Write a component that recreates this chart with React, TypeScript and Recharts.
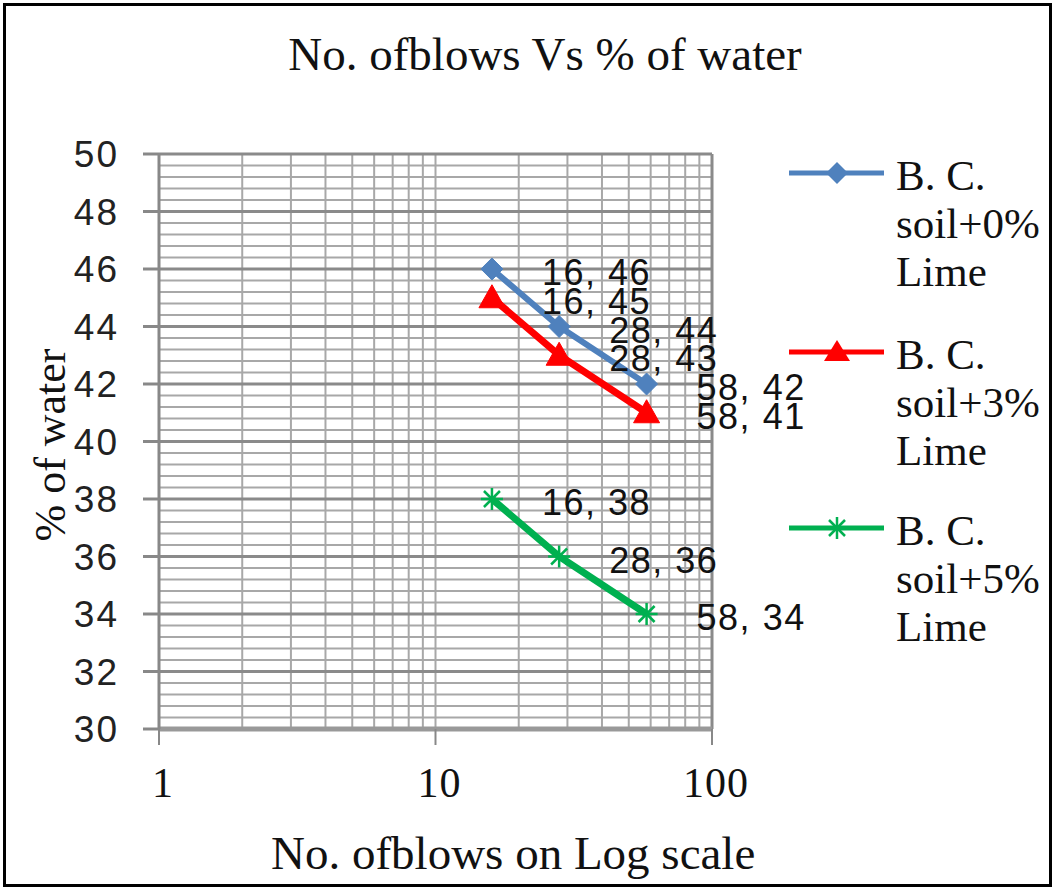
import React from "react";
import { LineChart, Line, XAxis, YAxis, CartesianGrid, LabelList } from "recharts";

const blows = [16, 28, 58];
const lime0 = [46, 44, 42];
const lime3 = [45, 43, 41];
const lime5 = [38, 36, 34];
const seriesNames = ["B. C. soil+0% Lime", "B. C. soil+3% Lime", "B. C. soil+5% Lime"];
const yTicks = [30, 32, 34, 36, 38, 40, 42, 44, 46, 48, 50];
const xTicks = [1, 10, 100];
const xMinor = [2, 3, 4, 5, 6, 7, 8, 9, 10, 20, 30, 40, 50, 60, 70, 80, 90];

const yMinor: number[] = [];
for (let i = 0; i <= 50; i++) {
  const v = Math.round((30 + i * 0.4) * 10) / 10;
  if (v % 2 !== 0) yMinor.push(v);
}

const mk = (ys: number[]) => blows.map((x, i) => ({ x, y: ys[i], label: `${x}, ${ys[i]}` }));
const d0 = mk(lime0);
const d3 = mk(lime3);
const d5 = mk(lime5);

const BLUE = "#4F81BD";
const RED = "#FF0000";
const GREEN = "#00B050";
const sans = "Liberation Sans, Arial, sans-serif";
const serif = "Liberation Serif, Times New Roman, serif";

const Diamond = (p: any) => {
  const { cx, cy } = p;
  if (cx == null || cy == null) return null;
  const r = 11;
  return <polygon key={`d${p.index}`} points={`${cx},${cy - r} ${cx + r},${cy} ${cx},${cy + r} ${cx - r},${cy}`} fill={BLUE} stroke={BLUE} />;
};
const Tri = (p: any) => {
  const { cx, cy } = p;
  if (cx == null || cy == null) return null;
  return <polygon key={`t${p.index}`} points={`${cx},${cy - 13} ${cx + 13},${cy + 10} ${cx - 13},${cy + 10}`} fill={RED} stroke={RED} />;
};
const Star = (p: any) => {
  const { cx, cy } = p;
  if (cx == null || cy == null) return null;
  const r = 11;
  const d = 8;
  return (
    <g key={`s${p.index}`} stroke={GREEN} strokeWidth={2.5}>
      <line x1={cx - r} y1={cy} x2={cx + r} y2={cy} />
      <line x1={cx} y1={cy - r} x2={cx} y2={cy + r} />
      <line x1={cx - d} y1={cy - d} x2={cx + d} y2={cy + d} />
      <line x1={cx - d} y1={cy + d} x2={cx + d} y2={cy - d} />
    </g>
  );
};

const DataLabel = (p: any) => {
  const { x, y, value } = p;
  return (
    <text x={x + 50} y={y} dy={16} fontFamily={sans} fontSize={36} letterSpacing={1.5} fill="#111">
      {value}
    </text>
  );
};

const YTick = (p: any) => {
  const { x, y, payload } = p;
  return (
    <text x={x - 22} y={y} dy={13} textAnchor="end" fontFamily={sans} fontSize={37} letterSpacing={2} fill="#222">
      {payload.value}
    </text>
  );
};
const XTick = (p: any) => {
  const { x, y, payload } = p;
  return (
    <text x={x + 4} y={y} dy={50} textAnchor="middle" fontFamily={serif} fontSize={42} letterSpacing={1} fill="#111">
      {payload.value}
    </text>
  );
};

const LegendIcon = ({ i }: { i: number }) => {
  const colors = [BLUE, RED, GREEN];
  const c = colors[i];
  return (
    <svg width={100} height={30} style={{ display: "block" }}>
      <line x1={2} y1={15} x2={97} y2={15} stroke={c} strokeWidth={5} />
      {i === 0 && <polygon points="50,4 61,15 50,26 39,15" fill={c} />}
      {i === 1 && <polygon points="50,3 63,24 37,24" fill={c} />}
      {i === 2 && (
        <g stroke={c} strokeWidth={2.5}>
          <line x1={39} y1={15} x2={61} y2={15} />
          <line x1={50} y1={4} x2={50} y2={26} />
          <line x1={42} y1={7} x2={58} y2={23} />
          <line x1={42} y1={23} x2={58} y2={7} />
        </g>
      )}
    </svg>
  );
};

export default function App() {
  const legendLineY = [173, 352, 528];
  return (
    <div style={{ position: "absolute", left: 0, top: 0, width: 1055, height: 890, background: "#fff" }}>
      <div style={{ position: "absolute", left: 3, top: 3, width: 1043, height: 878, border: "3px solid #000" }} />
      <div style={{ position: "absolute", left: 0, top: 27, width: 1090, textAlign: "center", fontFamily: serif, fontSize: 47, color: "#111" }}>
        No. ofblows Vs % of water
      </div>
      <LineChart width={1055} height={890} margin={{ top: 154, right: 343, bottom: 61, left: 99 }} style={{ position: "absolute", left: 0, top: 0 }}>
        <CartesianGrid stroke="#a8a8a8" strokeWidth={2} horizontalValues={yMinor} verticalValues={xMinor} />
        <CartesianGrid stroke="#8a8a8a" strokeWidth={3} horizontalValues={yTicks} verticalValues={[100]} />
        <XAxis
          dataKey="x"
          type="number"
          scale="log"
          domain={[1, 100]}
          ticks={xTicks}
          allowDataOverflow
          height={100}
          axisLine={{ stroke: "#999", strokeWidth: 5 }}
          tickLine={{ stroke: "#888", strokeWidth: 2 }}
          tickSize={16}
          tick={<XTick />}
          interval={0}
        />
        <YAxis
          type="number"
          domain={[30, 50]}
          ticks={yTicks}
          width={60}
          axisLine={{ stroke: "#888", strokeWidth: 3 }}
          tickLine={{ stroke: "#888", strokeWidth: 3 }}
          tickSize={16}
          tick={<YTick />}
          interval={0}
        />
        <Line data={d0} dataKey="y" name={seriesNames[0]} stroke={BLUE} strokeWidth={6} dot={Diamond} isAnimationActive={false}>
          <LabelList dataKey="label" content={<DataLabel />} />
        </Line>
        <Line data={d3} dataKey="y" name={seriesNames[1]} stroke={RED} strokeWidth={7} dot={Tri} isAnimationActive={false}>
          <LabelList dataKey="label" content={<DataLabel />} />
        </Line>
        <Line data={d5} dataKey="y" name={seriesNames[2]} stroke={GREEN} strokeWidth={7} dot={Star} isAnimationActive={false}>
          <LabelList dataKey="label" content={<DataLabel />} />
        </Line>
      </LineChart>
      <div style={{ position: "absolute", left: 271, top: 826, fontFamily: serif, fontSize: 47, color: "#111", whiteSpace: "pre" }}>
        No. ofblows on Log scale
      </div>
      <div
        style={{
          position: "absolute",
          left: 50,
          top: 445,
          transform: "translate(-50%, -50%) rotate(-90deg)",
          fontFamily: serif,
          fontSize: 44,
          color: "#111",
          whiteSpace: "nowrap",
        }}
      >
        % of water
      </div>
      {legendLineY.map((ly, i) => (
        <React.Fragment key={i}>
          <div style={{ position: "absolute", left: 787, top: ly - 15 }}>
            <LegendIcon i={i} />
          </div>
          <div style={{ position: "absolute", left: 896, top: ly - 21, fontFamily: serif, fontSize: 43, lineHeight: "48px", color: "#111" }}>
            {seriesNames[i].replace(" soil", "\nsoil").replace("% ", "%\n").split("\n").map((s, k) => (
              <div key={k}>{s}</div>
            ))}
          </div>
        </React.Fragment>
      ))}
    </div>
  );
}
